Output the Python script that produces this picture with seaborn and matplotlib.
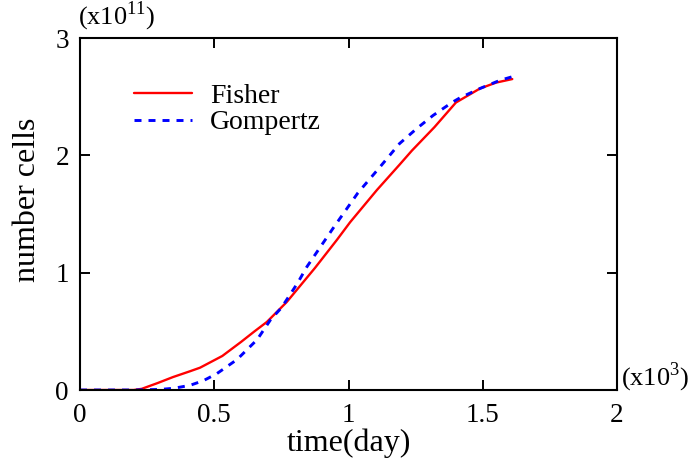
import matplotlib
matplotlib.use("Agg")
import matplotlib.pyplot as plt
import seaborn as sns
import pandas as pd

# Data (time in 10^3 days, cells in 10^11)
fisher_t = [0, 0.1, 0.2, 0.23, 0.29, 0.346, 0.41, 0.447, 0.53, 0.6, 0.65, 0.696, 0.77,
            0.875, 0.957, 1.006, 1.106, 1.19, 1.236, 1.32, 1.40, 1.49, 1.55, 1.61]
fisher_n = [0, 0, 0, 0.01, 0.06, 0.11, 0.16, 0.19, 0.29, 0.41, 0.50, 0.58, 0.75,
            1.04, 1.28, 1.43, 1.705, 1.92, 2.04, 2.24, 2.45, 2.57, 2.62, 2.65]
gomp_t = [0, 0.1, 0.2, 0.3, 0.35, 0.41, 0.46, 0.51, 0.585, 0.66, 0.71, 0.75, 0.81,
          0.845, 0.943, 1.035, 1.117, 1.19, 1.255, 1.315, 1.385, 1.415, 1.49, 1.565, 1.61]
gomp_n = [0, 0, 0, 0.005, 0.015, 0.04, 0.08, 0.14, 0.26, 0.43, 0.60, 0.70, 0.91,
          1.05, 1.38, 1.68, 1.90, 2.10, 2.23, 2.34, 2.45, 2.49, 2.57, 2.64, 2.67]
x_ticks = [0, 0.5, 1, 1.5, 2]
x_tick_labels = ["0", "0.5", "1", "1.5", "2"]
y_ticks = [0, 1, 2, 3]
y_tick_labels = ["0", "1", "2", "3"]

sns.set_theme(style="ticks")
plt.rcParams["font.family"] = ["Liberation Serif", "DejaVu Serif"]
plt.rcParams["mathtext.fontset"] = "custom"
plt.rcParams["mathtext.rm"] = "Liberation Serif"
plt.rcParams["text.color"] = "black"
plt.rcParams["axes.labelcolor"] = "black"

df_f = pd.DataFrame({"t": fisher_t, "n": fisher_n})
df_g = pd.DataFrame({"t": gomp_t, "n": gomp_n})

fig = plt.figure(figsize=(6.93, 4.65), dpi=100)
ax = fig.add_axes([80 / 693, 75 / 465, 537 / 693, 352 / 465])

sns.lineplot(data=df_f, x="t", y="n", ax=ax, color="#ff0000", lw=1.7,
             label="Fisher", sort=False)
sns.lineplot(data=df_g, x="t", y="n", ax=ax, color="#0000ff", lw=2.1,
             linestyle=(0, (2.4, 2.4)), label="Gompertz", sort=False)

ax.set_xlim(0, 2)
ax.set_ylim(0, 3)
ax.set_xticks(x_ticks)
ax.set_xticklabels(x_tick_labels)
ax.set_yticks(y_ticks)
ax.set_yticklabels(y_tick_labels)
ax.tick_params(direction="in", length=7, width=1.4, top=True, right=True,
               labelsize=19.5, pad=9, colors="black", labelcolor="black")
ax.tick_params(axis="y", pad=8)
for s in ax.spines.values():
    s.set_linewidth(1.5)
    s.set_color("black")
    s.set_visible(True)

ax.set_xlabel("time(day)", fontsize=23, color="black")
ax.set_ylabel("number cells", fontsize=23, color="black")
ax.xaxis.set_label_coords(0.5, -0.108)
ax.yaxis.set_label_coords(-0.071, 0.54)

ax.text(-0.004, 1.037, r"(x10$^{\mathrm{11}}$)", transform=ax.transAxes,
        fontsize=19, ha="left", va="baseline", color="black")
ax.text(1.008, 0.014, r"(x10$^{\mathrm{3}}$)", transform=ax.transAxes,
        fontsize=19, ha="left", va="baseline", color="black")

leg = ax.legend(loc="upper left", bbox_to_anchor=(0.1, 0.872), frameon=False,
                fontsize=20, handlelength=2.1, handletextpad=0.65,
                borderpad=0, borderaxespad=0, labelspacing=0.05)
for t in leg.get_texts():
    t.set_color("black")

fig.savefig("out.png", dpi=100)
